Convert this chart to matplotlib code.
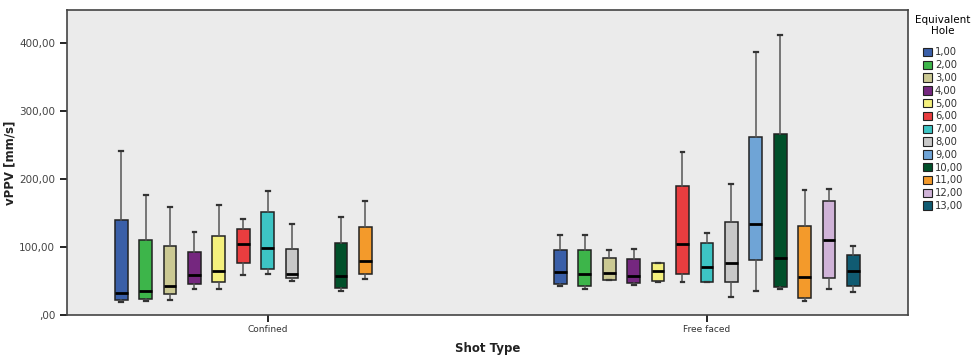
import numpy as np
import matplotlib.pyplot as plt
from matplotlib.patches import Patch
from matplotlib.ticker import FuncFormatter

categories = ['Confined', 'Free faced']
holes = ['1,00', '2,00', '3,00', '4,00', '5,00', '6,00', '7,00',
         '8,00', '9,00', '10,00', '11,00', '12,00', '13,00']
colors = ['#3A5FA8', '#3DB54A', '#CBC993', '#75277F', '#F4F07D', '#E93D3F',
          '#3DC4C4', '#C8C8C8', '#6FA4D6', '#00502A', '#F39A2B', '#D0B3D8', '#105B72']

# whisker low, q1, median, q3, whisker high  (None = no data for that hole)
confined = [
    [19, 22, 32, 140, 241],
    [20, 23, 35, 110, 176],
    [22, 30, 43, 102, 158],
    [38, 45, 59, 93, 122],
    [38, 48, 65, 116, 162],
    [59, 76, 104, 127, 141],
    [60, 67, 99, 152, 182],
    [50, 54, 60, 97, 133],
    None,
    [35, 39, 57, 106, 144],
    [53, 60, 79, 129, 167],
    None,
    None,
]
free_faced = [
    [42, 46, 63, 96, 117],
    [38, 43, 60, 95, 117],
    [52, 52, 62, 83, 96],
    [44, 47, 57, 82, 97],
    [49, 50, 64, 77, 77],
    [48, 60, 104, 189, 240],
    [48, 49, 71, 106, 120],
    [27, 48, 77, 137, 192],
    [35, 80, 133, 262, 387],
    [38, 41, 84, 266, 412],
    [20, 25, 56, 131, 183],
    [38, 54, 110, 167, 185],
    [33, 42, 64, 88, 101],
]

fig = plt.figure(figsize=(9.78, 3.57), dpi=100)
ax = fig.add_axes([0.0685, 0.118, 0.8595, 0.853])
ax.set_facecolor('#EBEBEB')

step = 0.0556
bw = 0.029
for ci, data in enumerate([confined, free_faced]):
    for i, vals in enumerate(data):
        if vals is None:
            continue
        lo, q1, med, q3, hi = vals
        st = [dict(whislo=lo, q1=q1, med=med, q3=q3, whishi=hi, fliers=[])]
        pos = ci + (i - 6) * step
        ax.bxp(st, positions=[pos], widths=bw, capwidths=bw * 0.3,
               patch_artist=True, showfliers=False, manage_ticks=False,
               boxprops=dict(facecolor=colors[i], edgecolor='#222222', linewidth=1.1),
               medianprops=dict(color='black', linewidth=2),
               whiskerprops=dict(color='#555555', linewidth=1.1),
               capprops=dict(color='#333333', linewidth=1.6))

ax.set_xlim(-0.457, 1.457)
ax.set_ylim(0, 448)
ax.set_xticks([0, 1])
ax.set_xticklabels(categories, fontsize=6.5, color='#333333')
ax.set_yticks([0, 100, 200, 300, 400])
ax.yaxis.set_major_formatter(FuncFormatter(
    lambda v, p: ('%.2f' % v).replace('.', ',').lstrip('0') if v == 0 else ('%.2f' % v).replace('.', ',')))
ax.tick_params(axis='y', labelsize=7.5, labelcolor='#444444', length=5, width=1.2, direction='out')
ax.tick_params(axis='x', length=5, width=1.2, direction='out', pad=2)
for s in ax.spines.values():
    s.set_color('#444444')
    s.set_linewidth(1.2)

ax.set_ylabel('vPPV [mm/s]', fontsize=8.5, fontweight='bold', color='#222222')
ax.yaxis.set_label_coords(-0.06, 0.5)
ax.set_xlabel('Shot Type', fontsize=8.5, fontweight='bold', color='#222222')
ax.xaxis.set_label_coords(0.5, -0.09)

handles = [Patch(facecolor=c, edgecolor='#222222', linewidth=0.8) for c in colors]
leg = fig.legend(handles, holes, title='Equivalent\nHole', loc='upper left',
                 bbox_to_anchor=(0.932, 0.97), frameon=False, fontsize=7.2,
                 title_fontsize=7.5, handlelength=0.9, handleheight=0.9,
                 handletextpad=0.3, labelspacing=0.28, borderaxespad=0)
leg.get_title().set_multialignment('center')
leg._legend_box.sep = 8
for t in leg.get_texts():
    t.set_color('#333333')

fig.savefig('out.png', dpi=100)
